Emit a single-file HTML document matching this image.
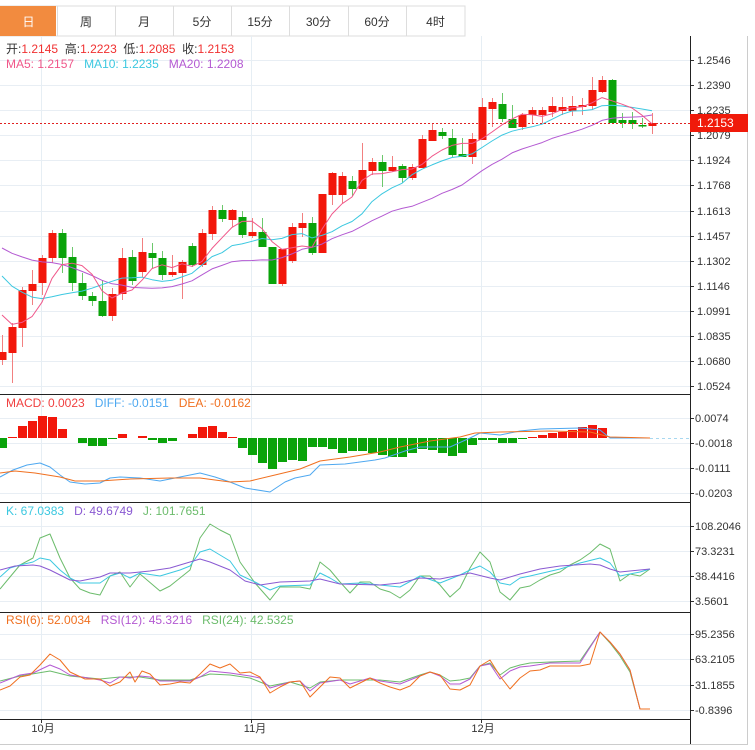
<!DOCTYPE html>
<html><head><meta charset="utf-8"><style>
html,body{margin:0;padding:0;background:#fff;width:755px;height:750px;overflow:hidden;font-family:"Liberation Sans","Noto Sans CJK SC",sans-serif;}
svg{position:absolute;left:0;top:0}
</style></head><body>
<svg id="s" width="755" height="750" xmlns="http://www.w3.org/2000/svg" font-family="Liberation Sans, Noto Sans CJK SC, sans-serif"></svg>
<script>
var s=document.getElementById('s');var h='';
function L(x1,y1,x2,y2,c,w,extra){h+='<line x1="'+x1+'" y1="'+y1+'" x2="'+x2+'" y2="'+y2+'" stroke="'+c+'" stroke-width="'+(w||1)+'" '+(extra||'')+'/>';}
function R(x,y,w,hh,c,extra){h+='<rect x="'+x+'" y="'+y+'" width="'+w+'" height="'+hh+'" fill="'+c+'" '+(extra||'')+'/>';}
function T(x,y,t,c,sz,anchor){h+='<text x="'+x+'" y="'+y+'" fill="'+c+'" font-size="'+(sz||12)+'"'+(anchor?' text-anchor="'+anchor+'"':'')+'>'+t+'</text>';}
function P(pts,c,w){h+='<polyline fill="none" stroke="'+c+'" stroke-width="'+(w||1)+'" stroke-linejoin="round" points="'+pts.map(function(p){return p[0]+','+p[1]}).join(' ')+'"/>';}
R(0,6,465,30,'#fff','stroke="#ddd"');
var tabs=['日','周','月','5分','15分','30分','60分','4时'],tx=[0,57,115,173,231,289,348,406,465];
for(var i=0;i<8;i++){ if(i==0)R(0,6,56,30,'#f28b3f'); else L(tx[i]+0.5,6,tx[i]+0.5,36,'#ddd');
 T((tx[i]+tx[i+1])/2,26,tabs[i],i==0?'#fff':'#333',12,'middle');}
var pg=[60,85,110,135,160,185,211,236,261,286,311,336,361,386];
var pl=['1.2546','1.2390','1.2235','1.2079','1.1924','1.1768','1.1613','1.1457','1.1302','1.1146','1.0991','1.0835','1.0680','1.0524'];
pg.forEach(function(y,i){L(0,y+.5,690,y+.5,'#e8eef4');L(690,y+.5,694,y+.5,'#333');T(697,y+4,pl[i],'#333',11);});
[[418,'0.0074'],[443,'-0.0018'],[468,'-0.0111'],[493,'-0.0203']].forEach(function(a){L(0,a[0]+.5,690,a[0]+.5,'#e8eef4');L(690,a[0]+.5,694,a[0]+.5,'#333');T(695,a[0]+4,a[1],'#333',11);});
[[526,'108.2046'],[551,'73.3231'],[576,'38.4416'],[601,'3.5601']].forEach(function(a){L(0,a[0]+.5,690,a[0]+.5,'#e8eef4');L(690,a[0]+.5,694,a[0]+.5,'#333');T(695,a[0]+4,a[1],'#333',11);});
[[634,'95.2356'],[659,'63.2105'],[685,'31.1855'],[710,'-0.8396']].forEach(function(a){L(0,a[0]+.5,690,a[0]+.5,'#e8eef4');L(690,a[0]+.5,694,a[0]+.5,'#333');T(695,a[0]+4,a[1],'#333',11);});
[41,251,481].forEach(function(x){L(x+.5,36,x+.5,719,'#e6eef4');L(x+.5,719,x+.5,723,'#333');});
T(43,732,'10月','#333',11,'middle');T(255,732,'11月','#333',11,'middle');T(483,732,'12月','#333',11,'middle');
[394,502,612,719].forEach(function(y){L(0,y+.5,690,y+.5,'#222');});
L(690.5,36,690.5,745,'#222');L(0,744.5,748,744.5,'#ccc');L(747.5,36,747.5,745,'#ccc');
var C=[[360,352,335,365],[353,327,323,383],[328,290,287,347],[291,284,270,305],[283,258,255,295],[258,233,230,263],[233,258,229,273],[257,283,247,291],[283,296,273,300],[296,301,292,306],[301,316,280,317],[316,294,288,321],[294,258,248,300],[257,281,250,285],[272,252,238,277],[253,258,243,268],[258,275,251,280],[275,272,255,277],[273,262,260,299],[246,265,243,267],[265,233,229,267],[234,210,206,240],[210,219,205,222],[220,210,209,227],[217,235,211,238],[236,232,218,238],[232,247,218,247],[247,284,247,284],[284,249,249,286],[261,227,223,263],[228,223,213,237],[223,253,217,255],[253,194,194,253],[195,173,172,205],[195,176,172,203],[181,189,176,196],[189,170,143,189],[171,162,158,175],[162,171,155,187],[171,167,156,172],[166,178,164,183],[178,167,164,180],[168,139,135,168],[141,130,123,141],[132,136,128,139],[138,155,129,157],[154,157,138,157],[157,139,133,164],[140,107,98,140],[109,102,98,127],[104,119,93,122],[119,128,105,128],[127,115,113,130],[115,110,107,123],[115,110,107,123],[112,106,97,117],[111,107,97,115],[111,106,96,116],[107,105,98,115],[106,90,77,110],[92,80,76,93],[80,123,79,124],[120,123,113,128],[120,124,112,129],[125,126,118,128],[126,123,113,134]];
function X(i){return 2+10*i;}
C.forEach(function(c,i){var up=c[1]<c[0];var col=up?'#f2170b':'#0aa30a';var wc=up?'#f28080':'#6cc86c';var x=X(i);
 L(x+.5,c[2],x+.5,c[3],wc);var t=Math.min(c[0],c[1]),b=Math.max(c[0],c[1]);R(x-3.5,t,8,Math.max(b-t,1.5),col);});
var pad=[220,220,220,220,220,220,220,220,220,220,225,230,235,243,252,280,300,313,330];
var cl=pad.concat(C.map(function(c){return c[1];}));
function MA(n){var r=[];for(var i=0;i<C.length;i++){var k=i+19,sm=0;for(var j=0;j<n;j++)sm+=cl[k-j];r.push([X(i),(sm/n).toFixed(1)]);}return r;}
P(MA(20),'#b45ad2');P(MA(10),'#3cc8e0');P(MA(5),'#f0578a');
L(0,123.5,690,123.5,'#e02020',1,'stroke-dasharray="2,2"');
R(690,114,58,18,'#f01a0a');T(697,127,'1.2153','#fff',12);
h+='<text x="6" y="53" font-size="12" fill="#333" xml:space="preserve">开:<tspan fill="#f03030">1.2145</tspan>  高:<tspan fill="#f03030">1.2223</tspan>  低:<tspan fill="#f03030">1.2085</tspan>  收:<tspan fill="#f03030">1.2153</tspan></text>';
h+='<text x="6" y="68" font-size="12" xml:space="preserve"><tspan fill="#f0578a">MA5: 1.2157</tspan>   <tspan fill="#3cc8e0">MA10: 1.2235</tspan>   <tspan fill="#b45ad2">MA20: 1.2208</tspan></text>';
h+='<text x="6" y="407" font-size="12" xml:space="preserve"><tspan fill="#f04040">MACD: 0.0023</tspan>   <tspan fill="#4ea8f0">DIFF: -0.0151</tspan>   <tspan fill="#f07020">DEA: -0.0162</tspan></text>';
h+='<text x="6" y="515" font-size="12" xml:space="preserve"><tspan fill="#3cc8e0">K: 67.0383</tspan>   <tspan fill="#8a5ad2">D: 49.6749</tspan>   <tspan fill="#6cbc6c">J: 101.7651</tspan></text>';
h+='<text x="6" y="624" font-size="12" xml:space="preserve"><tspan fill="#f07020">RSI(6): 52.0034</tspan>   <tspan fill="#b45ad2">RSI(12): 45.3216</tspan>   <tspan fill="#6cbc6c">RSI(24): 42.5325</tspan></text>';
var M=[448,437,426,421,416,417,429,438,443,446,446,439,434,438,436,440,443,441,438,434,427,426,432,437,448,455,463,469,462,460,461,447,447,449,453,451,451,453,455,457,457,453,449,450,453,456,453,445,440,440,443,443,439,437,435,433,432,430,427,425,428,438,438,438,438,438];
M.forEach(function(v,i){var x=X(i);if(Math.abs(v-438)<1)return;if(v<438)R(x-4,v,9,438-v,'#f2170b');else R(x-4,438,9,v-438,'#0aa30a');});
P([[0,477],[13,470],[27,465],[40,463],[50,467],[60,475],[70,482],[85,484],[100,483],[110,478],[120,477],[140,478],[160,481],[180,477],[200,473],[215,477],[230,482],[245,488],[270,492],[285,482],[295,478],[310,475],[320,465],[345,464],[375,460],[385,458],[405,451],[420,447],[450,447],[470,438],[480,433],[500,435],[520,431],[540,429],[580,428],[600,430],[610,438],[650,438]],'#4ea8f0');
P([[0,473],[15,471],[35,473],[60,477],[75,481],[100,481],[130,479],[170,478],[200,478],[230,482],[250,481],[275,475],[300,469],[320,461],[350,457],[380,452],[400,447],[430,441],[460,437],[475,433],[500,432],[550,431],[590,432],[610,437],[650,438]],'#f07020');
L(650,438.5,690,438.5,'#a8d8f0',1,'stroke-dasharray="3,3"');
P([[0,589],[10,577],[20,565],[33,558],[40,538],[50,534],[60,558],[70,578],[80,589],[90,593],[100,595],[110,576],[120,572],[130,587],[140,574],[160,591],[170,586],[190,570],[200,538],[210,524],[220,530],[230,535],[240,562],[255,583],[270,600],[280,587],[300,587],[310,589],[320,562],[330,570],[340,582],[350,593],[360,582],[370,582],[380,589],[390,592],[400,598],[410,590],[420,576],[430,576],[440,585],[450,597],[460,588],[470,568],[480,552],[490,562],[500,592],[510,600],[520,588],[530,586],[540,580],[550,575],[560,572],[570,565],[580,560],[590,553],[600,544],[610,549],[620,581],[630,574],[640,576],[650,569]],'#6cbc6c');
P([[0,577],[10,568],[20,565],[33,562],[40,558],[50,560],[60,570],[70,578],[80,583],[100,583],[110,576],[120,573],[130,578],[140,573],[160,576],[180,570],[190,566],[200,552],[210,549],[220,555],[230,561],[240,575],[255,582],[270,590],[280,586],[310,585],[320,573],[330,578],[340,584],[360,583],[380,585],[400,587],[420,576],[440,583],[460,575],[470,570],[480,566],[490,572],[500,583],[510,585],[520,578],[530,576],[560,569],[580,563],[600,558],[610,563],[620,576],[640,572],[650,569]],'#3cc8e0');
P([[0,570],[15,566],[33,565],[40,566],[50,570],[70,580],[80,581],[100,577],[110,573],[130,573],[150,571],[170,568],[190,562],[200,559],[210,562],[230,570],[245,581],[260,585],[280,582],[310,581],[320,579],[340,584],[380,585],[400,583],[420,578],[440,579],[450,577],[470,573],[490,578],[500,580],[520,574],[540,569],[560,566],[590,564],[600,565],[610,569],[620,572],[650,569]],'#8a5ad2');
P([[0,681],[20,676],[50,671],[70,676],[100,679],[120,677],[140,677],[160,680],[190,680],[210,674],[230,675],[250,678],[270,686],[290,682],[310,688],[320,682],[340,680],[380,680],[400,682],[420,675],[430,672],[440,675],[450,681],[460,680],[470,678],[480,666],[490,663],[500,675],[510,668],[520,665],[530,663],[550,662],[580,661],[600,632],[610,643],[620,656],[630,672],[640,709],[650,709]],'#6cbc6c');
P([[0,683],[20,675],[33,673],[50,665],[60,669],[70,675],[100,680],[110,683],[120,677],[130,678],[140,676],[150,677],[160,681],[190,681],[200,677],[210,671],[230,673],[250,676],[260,678],[270,688],[290,682],[300,681],[310,691],[320,683],[340,680],[350,684],[370,678],[380,681],[400,684],[420,676],[430,672],[440,676],[450,684],[460,684],[470,679],[480,666],[490,664],[500,679],[510,671],[520,667],[530,666],[550,663],[580,663],[600,632],[610,642],[620,654],[630,670],[640,709],[650,709]],'#b45ad2');
P([[0,690],[10,686],[20,677],[30,675],[40,665],[50,654],[60,660],[70,672],[85,679],[100,679],[110,686],[120,682],[130,672],[135,682],[142,671],[150,674],[160,685],[170,684],[180,682],[190,683],[200,674],[210,664],[220,668],[230,664],[240,673],[250,672],[260,677],[270,693],[280,687],[290,682],[300,681],[310,697],[320,687],[330,677],[340,678],[350,688],[370,678],[380,683],[390,687],[400,690],[410,686],[420,676],[430,672],[440,675],[450,689],[460,690],[470,685],[480,666],[490,660],[500,676],[510,689],[520,678],[530,671],[540,670],[550,666],[580,666],[590,664],[600,632],[610,642],[620,654],[630,670],[640,709],[650,709]],'#f07020');
s.innerHTML=h;
</script>
</body></html>
